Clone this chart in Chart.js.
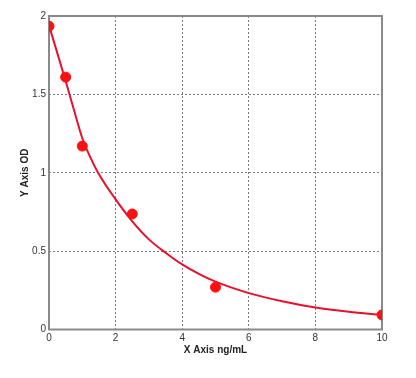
<!DOCTYPE html>
<html>
<head>
<meta charset="utf-8">
<script src="https://cdn.jsdelivr.net/npm/chart.js@4/dist/chart.umd.min.js"></script>
<style>
html,body{margin:0;padding:0;background:#fff;}
#wrap{width:416px;height:378px;position:relative;}
</style>
</head>
<body>
<div id="wrap"><canvas id="c" width="416" height="378"></canvas></div>
<script>
// Measured standards (concentration ng/mL vs OD)
const concentrations = [0, 0.5, 1, 2.5, 5, 10];
const odValues = [1.935, 1.61, 1.17, 0.737, 0.27, 0.093];
// Fitted curve
const curveX = [0, 0.5, 0.75, 1, 1.25, 1.5, 2, 2.5, 3, 3.5, 4, 4.5, 5, 6, 7, 8, 9, 10];
const curveY = [1.94, 1.585, 1.40, 1.22, 1.095, 0.99, 0.83, 0.69, 0.575, 0.49, 0.415, 0.355, 0.305, 0.232, 0.18, 0.14, 0.113, 0.093];
const xTicks = [0, 2, 4, 6, 8, 10];
const yTicks = [0, 0.5, 1, 1.5, 2];
const xTitle = 'X Axis ng/mL';
const yTitle = 'Y Axis OD';

const boxPlugin = {
  id: 'box',
  beforeDatasetsDraw(chart) {
    const a = chart.chartArea, ctx = chart.ctx;
    ctx.save();
    ctx.strokeStyle = '#8a8a8a';
    ctx.lineWidth = 2;
    ctx.strokeRect(a.left, a.top, a.right - a.left, a.bottom - a.top);
    ctx.restore();
  }
};

const tickFont = {family: 'Liberation Sans, Arial, sans-serif', size: 10};
const titleFont = {family: 'Liberation Sans, Arial, sans-serif', size: 10, weight: 'bold'};

new Chart(document.getElementById('c'), {
  type: 'scatter',
  data: {
    datasets: [
      {
        data: curveX.map((x, i) => ({x: x, y: curveY[i]})),
        showLine: true,
        borderColor: '#e8102e',
        borderWidth: 2,
        pointRadius: 0,
        cubicInterpolationMode: 'monotone',
        fill: false,
        order: 2
      },
      {
        data: concentrations.map((x, i) => ({x: x, y: odValues[i]})),
        showLine: false,
        backgroundColor: '#ff1010',
        borderColor: '#ff1010',
        pointRadius: 5,
        pointHoverRadius: 5,
        order: 1
      }
    ]
  },
  plugins: [boxPlugin],
  options: {
    responsive: false,
    animation: false,
    events: [],
    layout: {padding: {left: 0, top: 16, right: 34, bottom: 0}},
    plugins: {legend: {display: false}, tooltip: {enabled: false}},
    scales: {
      x: {
        type: 'linear',
        min: 0, max: 10,
        afterBuildTicks(s) { s.ticks = xTicks.map(v => ({value: v})); },
        afterFit(s) { s.height = 48.5; },
        grid: {color: '#7a7a7a', lineWidth: 1, drawTicks: false},
        border: {display: false, dash: [2, 2]},
        ticks: {color: '#333', font: tickFont, padding: 3, maxRotation: 0,
          callback: v => String(v)},
        title: {display: true, text: xTitle, color: '#222', font: titleFont, padding: {top: 0, bottom: 22}}
      },
      y: {
        type: 'linear',
        min: 0, max: 2,
        afterBuildTicks(s) { s.ticks = yTicks.map(v => ({value: v})); },
        afterFit(s) { s.width = 49; },
        grid: {color: '#7a7a7a', lineWidth: 1, drawTicks: false},
        border: {display: false, dash: [2, 2]},
        ticks: {color: '#333', font: tickFont, padding: 3,
          callback: v => String(v)},
        title: {display: true, text: yTitle, color: '#222', font: titleFont, padding: {top: 19, bottom: 0}}
      }
    }
  }
});
</script>
</body>
</html>
